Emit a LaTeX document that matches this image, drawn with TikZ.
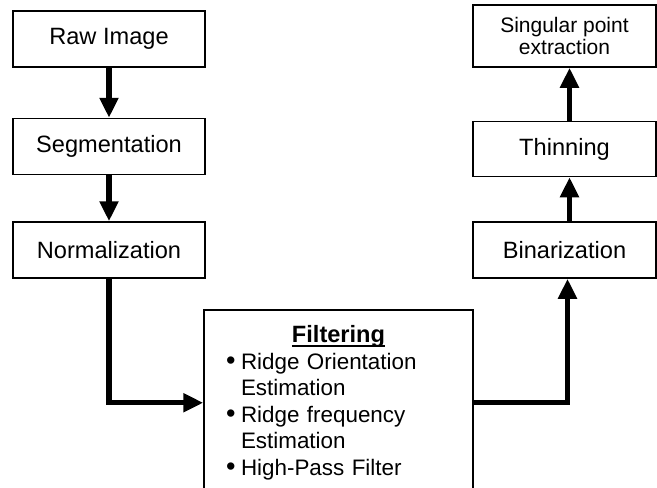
\documentclass[tikz,border=0pt]{standalone}
\usepackage{fontspec}
\setmainfont{Liberation Sans}
\usetikzlibrary{positioning, arrows.meta}
\tikzset{stage/.style={draw, line width=0.75pt, inner sep=0pt, align=center, font=\fontsize{11.8}{14}\selectfont}}
\tikzset{lstage/.style={stage, minimum width=96pt, minimum height=28pt}}
\tikzset{rstage/.style={stage, minimum width=91.5pt}}
\tikzset{arr3/.style={draw, line width=2.6pt, -{Triangle[length=10pt, width=9pt]}}}
\newcommand{\bitem}{\makebox[7.5pt][l]{\fontsize{13.5}{13.25}\selectfont\textbullet}}
\newcommand{\bcont}{\hspace*{7.5pt}}
\newcommand{\ulhead}[1]{\setbox0\hbox{#1}\rlap{\rule[-2pt]{\wd0}{1pt}}\box0}

\begin{document}
\begin{tikzpicture}[x=0.5pt, y=-0.5pt]
	\useasboundingbox (0,0) rectangle (657,487);
	\clip (0,0) rectangle (657,487);
	% left column
	\node[lstage] (raw) at (109,39) {Raw Image};
	\node[lstage, below=25pt of raw] (seg) {Segmentation};
	\node[lstage, below=23pt of seg] (norm) {Normalization};
	% right column
	\node[rstage, minimum height=31pt, font=\fontsize{10.5}{9}\selectfont] (sing) at (564.5,36)
	   {Singular point\\extraction};
	\node[rstage, minimum height=27.5pt, below=26.5pt of sing] (thin) {Thinning};
	\node[rstage, minimum height=28pt, below=22pt of thin] (bin) {Binarization};
	% filtering block
	\node[stage, anchor=north, minimum width=134.5pt, minimum height=93pt,
	   text width=112.5pt, align=left, font=\fontsize{11.2}{13.25}\selectfont] (filt) at (338.5,309)
	   {\centerline{\fontsize{11.8}{14.5}\selectfont\bfseries\ulhead{Filtering}}
	    \bitem Ridge Orientation\\
	    \bcont Estimation\\
	    \bitem Ridge frequency\\
	    \bcont Estimation\\
	    \bitem High-Pass Filter};
	% connectors
	\draw[arr3] (raw) -- (seg);
	\draw[arr3] (seg) -- (norm);
	\draw[arr3] (norm.south) |- (filt.west);
	\draw[arr3] (filt.east) -| ([xshift=1.5pt]bin.south);
	\draw[arr3] ([xshift=2.5pt]bin.north) -- ([xshift=2.5pt]thin.south);
	\draw[arr3] ([xshift=2.5pt]thin.north) -- ([xshift=2.5pt]sing.south);
\end{tikzpicture}
\end{document}
